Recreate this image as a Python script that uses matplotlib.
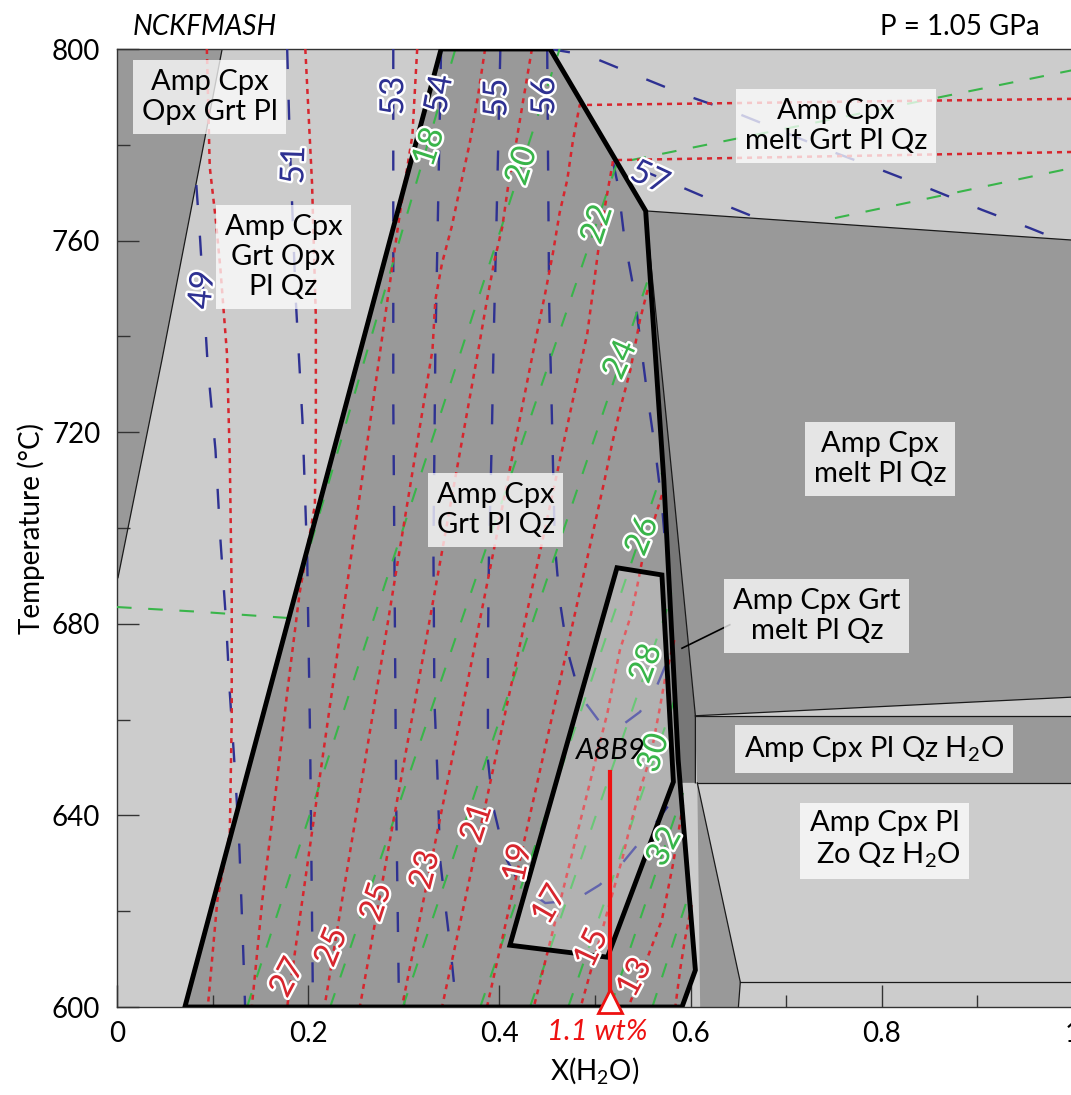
import numpy as np
import matplotlib
matplotlib.use('Agg')
import matplotlib.pyplot as plt
import matplotlib.patheffects as pe

plt.rcParams['font.family'] = ['Lato', 'DejaVu Sans']
plt.rcParams['mathtext.fontset'] = 'custom'
plt.rcParams['mathtext.rm'] = 'Lato'
plt.rcParams['mathtext.it'] = 'Lato:italic'

DARK = '#999999'
LIGHT = '#cccccc'
STRIP = '#777777'
BLUE = '#2e3192'
GREEN = '#39b54a'
RED = '#d7262e'

# ---- phase field outlines, X(H2O) vs T (C) ----
opx_wedge_x = [0.0, 0.110, 0.047, 0.001, 0.0]
opx_wedge_t = [800, 800, 735.1, 689.6, 689.6]

grt_x = [0.071, 0.339, 0.453, 0.553, 0.572, 0.587, 0.605, 0.591]
grt_t = [600, 800, 800, 766.2, 710.0, 651.6, 607.7, 600]

melt_x = [0.553, 1.0, 1.0, 0.605, 0.581]
melt_t = [766.2, 760.1, 664.7, 660.8, 710.0]

strip_x = [0.553, 0.581, 0.605, 0.605, 0.590, 0.587, 0.572]
strip_t = [766.2, 710.0, 660.8, 646.8, 646.8, 651.6, 710.0]

h2o_x = [0.605, 1.0, 1.0, 0.607]
h2o_t = [660.8, 660.8, 646.8, 646.8]

zo_wedge_x = [0.607, 0.652, 0.650, 0.610]
zo_wedge_t = [646.8, 605.2, 600, 600]

inner_x = [0.523, 0.570, 0.582, 0.513, 0.411]
inner_t = [691.7, 690.2, 647.0, 610.4, 612.9]

# thin field boundaries
thin_lines = [
    ([0.110, 0.047, 0.001, 0.0], [800, 735.1, 689.6, 689.4]),
    ([0.553, 1.0], [766.2, 760.1]),
    ([0.553, 0.581, 0.605, 0.605], [766.2, 710.0, 660.8, 646.8]),
    ([0.605, 1.0], [660.8, 664.7]),
    ([0.605, 1.0], [660.8, 660.8]),
    ([0.607, 1.0], [646.8, 646.8]),
    ([0.607, 0.652, 0.650], [646.8, 605.2, 600]),
    ([0.652, 1.0], [605.2, 605.2]),
]

# ---- isopleths ----
blue_lines = [
    ([.083, .087, .095, .103, .108, .114, .118, .124, .128, .132, .134],
     [771.6, 760.1, 733.6, 716.3, 698.1, 680.8, 665.6, 647.4, 633.4, 611.9, 600]),
    ([.178, .181, .187, .194, .199, .202, .205], [800, 778.9, 747.6, 722.5, 693.3, 655.7, 600]),
    ([.289, .289, .292, .295], [800, 726.7, 643.2, 600]),
    ([.339, .336, .333, .331, .332, .335, .338, .344, .349, .355],
     [800, 768.5, 737.2, 695.4, 664.1, 649.5, 630.7, 620.3, 611.9, 600]),
    ([.401, .397, .394, .392, .389, .388, .388, .393, .406, .422, .448, .479, .505, .528, .564, .591],
     [800, 764.3, 739.3, 718.4, 693.3, 674.5, 651.6, 642.2, 631.3, 625.5, 621.7, 622.3, 625.5, 629.9, 638.6, 645.9]),
    ([.450, .452, .455, .458, .463, .471, .484, .505, .524, .547, .563, .576, .581],
     [800, 747.6, 722.5, 696.5, 685.0, 674.5, 665.1, 659.5, 658.2, 661.6, 666.2, 672.4, 676.6]),
    ([.662, .610, .561, .535, .518, .524, .531, .541, .548, .555, .563, .570, .574],
     [765.3, 769.5, 773.7, 775.8, 777.2, 771.6, 760.1, 749.3, 738.2, 727.4, 716.3, 704.8, 695.4]),
    ([.453, .492, .542, .594, .646, .697, .749, .800, .853, .905, .955, .986],
     [800, 798.7, 794.6, 790.4, 786.8, 782.7, 778.5, 774.7, 770.6, 766.4, 762.6, 760.1]),
]
blue_labels = ['49', '51', '53', '54', '55', '56', '57']
blue_label_x = [.090, .186, .290, .338, .398, .448, .557]
blue_label_t = [749.7, 775.8, 790.2, 790.6, 789.8, 790.2, 773.0]
blue_label_rot = [84, 88, 90, 80, 90, 90, -25]

green_lines = [
    ([0.0, .087, .180, .354], [683.5, 682.5, 681.2, 800]),
    ([.136, .463], [600, 800]),
    ([.223, .523, 1.0], [600, 776.2, 795.6]),
    ([.299, .558], [600, 753.4]),
    ([.380, .571], [600, 712.1]),
    ([.432, .581], [600, 686.4]),
    ([.472, .587], [600, 666.4]),
    ([.516, .592], [600, 644.7]),
    ([.560, .598], [600, 623.4]),
    ([.751, 1.0], [764.7, 775.2]),
]
green_labels = ['18', '20', '22', '24', '26', '28', '30', '32']
green_label_x = [.327, .424, .503, .527, .550, .554, .562, .573]
green_label_t = [779.5, 775.6, 763.4, 735.1, 698.3, 671.7, 653.0, 633.4]
green_label_rot = [72, 72, 72, 66, 68, 70, 72, 62]

red_lines = [
    ([.094, .097, .103, .108, .115, .118, .120, .120, .118, .105, .095],
     [800, 775.4, 764.9, 754.5, 736.5, 714.2, 686.4, 659.9, 636.3, 622.3, 600]),
    ([.197, .204, .208, .208, .207, .191, .178, .165, .152, .141],
     [800, 772.0, 744.0, 721.1, 704.8, 686.4, 665.6, 643.2, 622.3, 600]),
    ([.314, .309, .296, .284, .278, .231, .178], [800, 782.0, 765.8, 749.1, 740.7, 674.5, 600]),
    ([.385, .377, .369, .359, .350, .340, .333, .330, .270, .217],
     [800, 789.4, 780.4, 771.2, 762.8, 755.3, 747.6, 737.2, 664.1, 600]),
    ([.434, .425, .418, .409, .403, .395, .387, .378, .312, .254],
     [800, 789.4, 781.0, 771.2, 762.8, 756.0, 747.6, 737.2, 664.1, 600]),
    ([1.0, .484, .477, .471, .463, .456, .448, .435, .363, .298],
     [789.6, 788.3, 781.0, 772.7, 765.8, 757.4, 749.1, 736.5, 664.1, 600]),
    ([1.0, .519, .514, .508, .503, .498, .492, .409, .340],
     [778.5, 776.8, 771.2, 764.3, 757.4, 749.7, 740.7, 664.1, 600]),
    ([.555, .547, .537, .526, .518, .510, .459, .387],
     [749.7, 743.4, 733.0, 724.6, 717.7, 710.0, 664.1, 600]),
    ([.570, .550, .544, .537, .526, .519, .513, .505, .498, .436],
     [706.9, 693.9, 687.7, 681.4, 674.5, 667.6, 661.4, 655.1, 649.5, 600]),
    ([.583, .573, .568, .558, .547, .537, .529, .485],
     [676.6, 668.3, 662.6, 652.2, 645.3, 638.0, 631.3, 600]),
    ([.592, .586, .581, .570, .552, .535], [642.2, 634.9, 629.2, 618.2, 608.8, 600]),
    ([.601, .594, .589, .584], [621.3, 614.0, 607.7, 600]),
]
red_labels = ['27', '25', '25', '23', '21', '19', '17', '15', '13']
red_label_x = [.179, .225, .272, .323, .377, .420, .453, .497, .542]
red_label_t = [606.1, 612.5, 621.9, 628.6, 638.4, 630.1, 621.3, 612.3, 606.1]
red_label_rot = [62, 68, 72, 76, 72, 78, 60, 65, 62]

# ---- field names ----
field_names = ['Amp Cpx\nOpx Grt Pl', 'Amp Cpx\nGrt Opx\nPl Qz', 'Amp Cpx\nmelt Grt Pl Qz',
               'Amp Cpx\nGrt Pl Qz', 'Amp Cpx\nmelt Pl Qz', 'Amp Cpx Grt\nmelt Pl Qz',
               'Amp Cpx Pl Qz H$_2$O', 'Amp Cpx Pl\n Zo Qz H$_2$O']
field_x = [.097, .174, .752, .396, .798, .732, .792, .803]
field_t = [790.0, 756.6, 783.9, 703.8, 714.4, 681.6, 653.9, 634.9]
field_align = ['center', 'center', 'center', 'left', 'center', 'center', 'center', 'center']

sample_x = 0.516
sample_t = [601.3, 649.1]

fig = plt.figure(figsize=(10.71, 10.95), dpi=100)
ax = fig.add_axes([117 / 1071, 88 / 1095, 956 / 1071, 958 / 1095])
ax.set_xlim(0, 1)
ax.set_ylim(600, 800)
ax.set_facecolor(LIGHT)

ax.fill(opx_wedge_x, opx_wedge_t, color=DARK, lw=0, zorder=1)
ax.fill(grt_x, grt_t, color=DARK, lw=0, zorder=1)
ax.fill(melt_x, melt_t, color=DARK, lw=0, zorder=1)
ax.fill(h2o_x, h2o_t, color=DARK, lw=0, zorder=1)
ax.fill(zo_wedge_x, zo_wedge_t, color=DARK, lw=0, zorder=1)
ax.fill(strip_x, strip_t, color=STRIP, lw=0, zorder=1)
for xs, ts in thin_lines:
    ax.plot(xs, ts, color='#1a1a1a', lw=0.9, zorder=1.6)

for xs, ts in blue_lines:
    ax.plot(xs, ts, color=BLUE, lw=1.7, ls=(0, (8.5, 13)), zorder=3)
for xs, ts in green_lines:
    ax.plot(xs, ts, color=GREEN, lw=1.5, ls=(0, (7, 8)), zorder=3)
for xs, ts in red_lines:
    ax.plot(xs, ts, color=RED, lw=1.8, ls=(0, (2, 2)), zorder=3)

# inner field: translucent overlay
ax.fill(inner_x, inner_t, color='white', alpha=0.25, lw=0, zorder=3.5)
ax.fill(inner_x, inner_t, fill=False, ec='black', lw=3.5, joinstyle='miter', zorder=5)
ax.fill(grt_x, grt_t, fill=False, ec='black', lw=3.5, joinstyle='miter', zorder=5)

halo = [pe.withStroke(linewidth=3.5, foreground='white')]
for lab, x, t, r in zip(blue_labels, blue_label_x, blue_label_t, blue_label_rot):
    ax.text(x, t, lab, color=BLUE, fontsize=24, rotation=r, ha='center', va='center',
            rotation_mode='anchor', path_effects=halo, zorder=6)
for lab, x, t, r in zip(green_labels, green_label_x, green_label_t, green_label_rot):
    ax.text(x, t, lab, color=GREEN, fontsize=24, rotation=r, ha='center', va='center',
            rotation_mode='anchor', path_effects=halo, zorder=6)
for lab, x, t, r in zip(red_labels, red_label_x, red_label_t, red_label_rot):
    ax.text(x, t, lab, color=RED, fontsize=24, rotation=r, ha='center', va='center',
            rotation_mode='anchor', path_effects=halo, zorder=6)

for name, x, t, al in zip(field_names, field_x, field_t, field_align):
    ax.text(x, t, name, fontsize=21, ha='center', va='center', multialignment=al,
            bbox=dict(boxstyle='square,pad=0.3', fc='white', ec='none', alpha=0.75), zorder=7)

# leader to the thin Grt-melt field
ax.plot([0.641, 0.591], [679.8, 674.9], color='black', lw=1.2, zorder=6)

# sample bulk water content
ax.plot([sample_x, sample_x], sample_t, color='#ee1111', lw=3, zorder=8)
ax.plot([sample_x], [sample_t[0]], marker='^', ms=17, mfc='white', mec='#ee1111', mew=2,
        zorder=9, clip_on=False)
ax.text(sample_x, 653.4, 'A8B9', fontsize=21, style='italic', ha='center', va='center', zorder=8)
ax.text(0.502, -0.026, '1.1 wt%', color='#ee1111', fontsize=21, style='italic',
        ha='center', va='center', transform=ax.get_xaxis_transform())

ax.text(0.0167, 1.023, 'NCKFMASH', fontsize=20, style='italic', ha='left', va='center',
        transform=ax.transAxes)
ax.text(0.9655, 1.023, 'P = 1.05 GPa', fontsize=20, ha='right', va='center',
        transform=ax.transAxes)

ax.set_xticks([0, 0.2, 0.4, 0.6, 0.8, 1.0])
ax.set_xticklabels(['0', '0.2', '0.4', '0.6', '0.8', '1'])
ax.set_xticks(np.arange(0.1, 1.0, 0.2), minor=True)
ax.set_yticks(np.arange(600, 801, 40))
ax.set_yticks(np.arange(620, 800, 40), minor=True)
ax.tick_params(which='both', direction='in', top=False, right=False, labelsize=20,
               color='#333333')
ax.tick_params(axis='y', pad=12)
ax.tick_params(axis='x', pad=10)
ax.tick_params(which='major', length=16, width=1)
ax.tick_params(which='minor', length=9, width=1)
for s in ax.spines.values():
    s.set_linewidth(1)
    s.set_color('#333333')

ax.set_xlabel('X(H$_2$O)', fontsize=20, labelpad=6)
ax.set_ylabel('Temperature (°C)', fontsize=20, labelpad=5)

fig.savefig('out.png', dpi=100)
